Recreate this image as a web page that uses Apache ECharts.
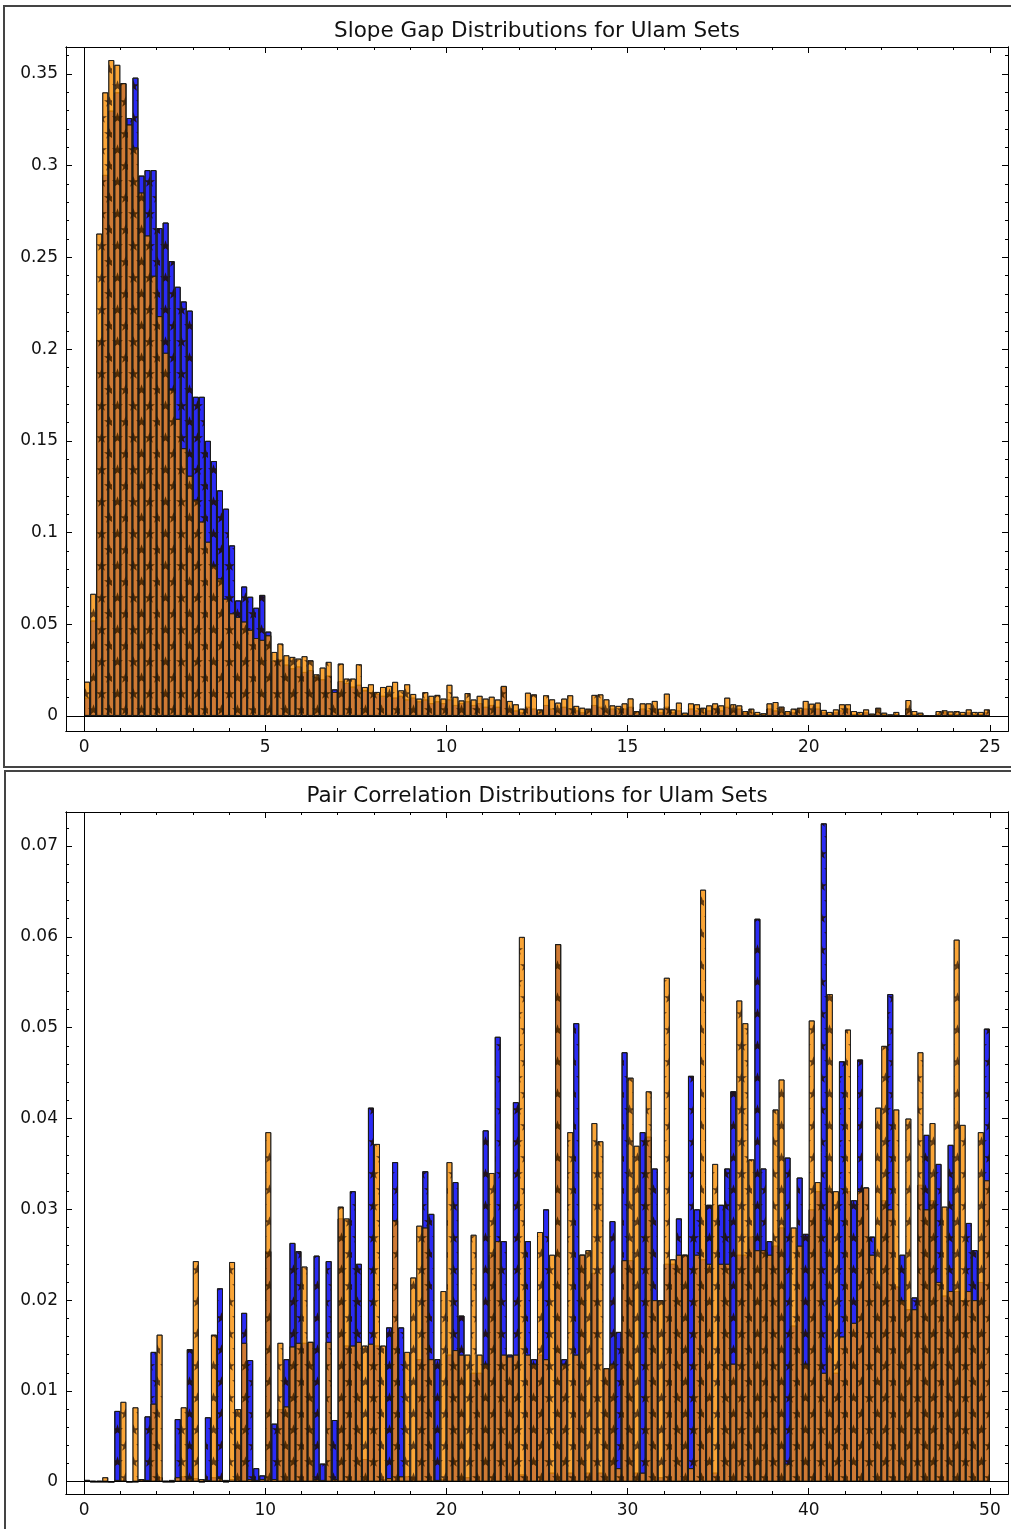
<!DOCTYPE html>
<html>
<head>
    <meta charset="UTF-8">
    <title>Ulam Sets</title>
    <script src="https://cdn.jsdelivr.net/npm/echarts@6/dist/echarts.min.js"></script>
</head>
<body style="margin:0;background:#fff;">
    <div id="main" style="width:1011px;height:1529px;"></div>
    <script>
        // slope gaps: 150 bins of width 1/6 on [0, 25]
        var slopeBlue = [
            0.010,0.052,0.205,0.295,0.330,0.340,0.345,0.326,0.348,0.2946,
            0.2976,0.2976,0.266,0.269,0.248,0.234,0.226,0.221,0.174,0.174,
            0.150,0.139,0.123,0.113,0.093,0.063,0.0706,0.065,0.059,0.066,
            0.046,0.030,0.031,0.028,0.026,0.027,0.024,0.025,0.021,0.020,
            0.022,0.0145,0.019,0.018,0.016,0.017,0.014,0.013,0.012,0.011,
            0.012,0.010,0.011,0.009,0.010,0.008,0.009,0.007,0.008,0.007,
            0.009,0.006,0.007,0.008,0.006,0.007,0.005,0.006,0.005,0.016,
            0.004,0.003,0.002,0.005,0.004,0.002,0.006,0.004,0.003,0.005,
            0.004,0.003,0.002,0.003,0.006,0.005,0.003,0.004,0.003,0.004,
            0.005,0.002,0.004,0.003,0.004,0.002,0.005,0.002,0.003,0.001,
            0.004,0.003,0.002,0.003,0.004,0.003,0.005,0.003,0.004,0.002,
            0.002,0.001,0.001,0.004,0.003,0.002,0.002,0.002,0.003,0.004,
            0.003,0.004,0.002,0.001,0.002,0.003,0.004,0.001,0.001,0.002,
            0.001,0.002,0.001,0.0005,0.001,0.0002,0.004,0.001,0.001,0.0003,
            0.0003,0.001,0.002,0.001,0.001,0.001,0.002,0.001,0.001,0.002
        ];
        var slopeOrange = [
            0.0187,0.0666,0.263,0.340,0.3576,0.355,0.345,0.3225,0.310,0.2854,
            0.262,0.240,0.218,0.198,0.178,0.162,0.146,0.131,0.118,0.106,
            0.095,0.082,0.075,0.064,0.056,0.054,0.0515,0.047,0.0425,0.0415,
            0.044,0.0349,0.0395,0.0331,0.0322,0.0313,0.0326,0.0304,0.0227,0.0264,
            0.0295,0.0131,0.0286,0.0204,0.0204,0.0282,0.0158,0.0173,0.0131,0.0158,
            0.0164,0.0186,0.014,0.0173,0.012,0.0095,0.013,0.011,0.0115,0.0095,
            0.017,0.0105,0.0085,0.0125,0.009,0.011,0.0095,0.0105,0.009,0.0164,
            0.0082,0.0064,0.0040,0.0127,0.0118,0.0036,0.0113,0.0091,0.0073,0.0095,
            0.0113,0.0055,0.0045,0.0040,0.0115,0.0118,0.0091,0.0058,0.0055,0.0069,
            0.0096,0.0027,0.0069,0.0069,0.0082,0.0040,0.0122,0.0036,0.0073,0.0018,
            0.0069,0.0064,0.0045,0.0058,0.0069,0.0058,0.0100,0.0064,0.0058,0.0027,
            0.0040,0.0022,0.0015,0.0069,0.0076,0.0051,0.0027,0.0040,0.0045,0.0082,
            0.0067,0.0073,0.0033,0.0022,0.0036,0.0064,0.0064,0.0027,0.0022,0.0036,
            0.0013,0.0045,0.0018,0.0009,0.0022,0.0002,0.0087,0.0027,0.0018,0.0004,
            0.0004,0.0027,0.0031,0.0025,0.0027,0.0022,0.0036,0.0022,0.0022,0.0036
        ];

        // pair correlations: 150 bins of width 1/3 on [0, 50]
        var pairBlue = [
            0.0002,0,0,0,0,0.0078,0.0002,0,0,0.0003,
            0.0072,0.0143,0.0005,0,0,0.0069,0.0006,0.0146,0.0004,0,
            0.0071,0.0005,0.0213,0,0.0003,0.004,0.0186,0.0134,0.0015,0.0007,
            0.0254,0.0064,0.008,0.0135,0.0263,0.0254,0.0153,0.0154,0.0249,0.002,
            0.0243,0.0068,0.029,0.015,0.032,0.024,0.0025,0.0412,0.015,0.0003,
            0.017,0.0352,0.017,0.0006,0.0005,0.0135,0.0342,0.0295,0.0135,0.0003,
            0.014,0.033,0.0183,0.0005,0.012,0.012,0.0387,0.025,0.049,0.0265,
            0.014,0.0418,0.0008,0.0265,0.0135,0.014,0.03,0.001,0.0592,0.0135,
            0.001,0.0505,0.025,0.001,0.023,0.001,0.0125,0.0287,0.0165,0.0473,
            0.0244,0.001,0.0385,0.038,0.0345,0.0005,0.024,0.024,0.029,0.025,
            0.0447,0.03,0.0245,0.0305,0.001,0.0305,0.0345,0.043,0.025,0.025,
            0.027,0.062,0.0345,0.0265,0.026,0.028,0.0357,0.0172,0.0335,0.0273,
            0.03,0.032,0.0725,0.032,0.012,0.0463,0.032,0.031,0.0465,0.0324,
            0.027,0.0215,0.031,0.0537,0.0215,0.025,0.019,0.0203,0.0327,0.0382,
            0.031,0.035,0.0205,0.0371,0.021,0.02,0.0285,0.0255,0.022,0.0499
        ];
        var pairOrange = [
            0.0002,0.0001,0.0001,0.0005,0,0.0002,0.0088,0,0.0082,0.0003,
            0.0002,0.0086,0.0162,0.0001,0.0002,0.0005,0.0082,0.0004,0.0243,0.0003,
            0.0002,0.0162,0.0004,0.0002,0.0242,0.008,0.0153,0.0003,0.0002,0.0003,
            0.0385,0.0003,0.0153,0.0083,0.0149,0.0153,0.0237,0.0154,0.0003,0.0002,
            0.0154,0.0003,0.0303,0.029,0.015,0.0154,0.015,0.0152,0.0372,0.015,
            0.0004,0.0288,0.0006,0.0143,0.0225,0.0282,0.028,0.0135,0.0002,0.021,
            0.0352,0.0145,0.014,0.014,0.0272,0.014,0.013,0.034,0.0265,0.014,
            0.0138,0.014,0.06,0.014,0.013,0.0275,0.0135,0.025,0.0592,0.013,
            0.0385,0.014,0.025,0.0255,0.0395,0.0375,0.0125,0.013,0.0015,0.0244,
            0.0445,0.037,0.001,0.043,0.02,0.02,0.0555,0.0245,0.025,0.025,
            0.0015,0.025,0.0652,0.024,0.035,0.024,0.024,0.013,0.053,0.0505,
            0.0355,0.0255,0.0255,0.025,0.041,0.0443,0.002,0.028,0.026,0.013,
            0.0508,0.033,0.012,0.0537,0.032,0.016,0.0498,0.0175,0.032,0.0324,
            0.025,0.0412,0.048,0.03,0.041,0.02,0.04,0.019,0.0473,0.03,
            0.0395,0.022,0.0303,0.021,0.0597,0.0393,0.021,0.02,0.0385,0.0332
        ];

        var slopeBin = 1 / 6;
        var pairBin = 1 / 3;

        var slopeXTicks = [0, 5, 10, 15, 20, 25];
        var slopeYTicks = [0, 0.05, 0.1, 0.15, 0.2, 0.25, 0.3, 0.35];
        var pairXTicks = [0, 10, 20, 30, 40, 50];
        var pairYTicks = [0, 0.01, 0.02, 0.03, 0.04, 0.05, 0.06, 0.07];

        var titles = ['Slope Gap Distributions for Ulam Sets', 'Pair Correlation Distributions for Ulam Sets'];

        function steps(a, b, s) {
            var out = [];
            for (var v = a; v <= b + 1e-9; v += s) out.push(+v.toFixed(4));
            return out;
        }

        function toBars(vals, w) {
            return vals.map(function (v, i) { return [(i + 0.5) * w, v]; });
        }

        var FONT = 'DejaVu Sans';
        var xAxes = [], yAxes = [];

        function ax(g, r, pos, ticks, len, labels) {
            return {
                gridIndex: g, type: 'value', position: pos, min: r[0], max: r[1],
                axisLine: { show: true, onZero: false, lineStyle: { color: '#000', width: 1 } },
                axisTick: { show: true, inside: true, length: len, customValues: ticks, lineStyle: { color: '#000', width: 1 } },
                axisLabel: labels ? { show: true, customValues: ticks, fontFamily: FONT, fontSize: 17, color: '#111', margin: 8 } : { show: false },
                splitLine: { show: false },
                minorTick: { show: false }
            };
        }

        function addFrame(g, xr, yr, xMaj, xMin, yMaj, yMin) {
            var xi = xAxes.length, yi = yAxes.length;
            xAxes.push(ax(g, xr, 'bottom', xMaj, 6, true));
            xAxes.push(ax(g, xr, 'bottom', xMin, 3, false));
            xAxes.push(ax(g, xr, 'top', xMaj, 6, false));
            xAxes.push(ax(g, xr, 'top', xMin, 3, false));
            yAxes.push(ax(g, yr, 'left', yMaj, 6, true));
            yAxes.push(ax(g, yr, 'left', yMin, 3, false));
            yAxes.push(ax(g, yr, 'right', yMaj, 6, false));
            yAxes.push(ax(g, yr, 'right', yMin, 3, false));
            return [xi, yi];
        }

        var top = addFrame(0, [-0.5, 25.5], [-0.0082, 0.3647],
            slopeXTicks, steps(0, 25, 1), slopeYTicks, steps(0, 0.36, 0.01));
        var bot = addFrame(1, [-1, 51], [-0.00135, 0.07375],
            pairXTicks, steps(0, 50, 2), pairYTicks, steps(0, 0.072, 0.002));

        // hatch of dark stars, rows staggered
        var starDecal = {
            symbol: 'path://M50,0L61.2,34.5L97.6,34.5L68.2,55.9L79.4,90.5L50,69.1L20.6,90.5L31.8,55.9L2.4,34.5L38.8,34.5Z',
            symbolSize: 1,
            color: 'rgba(30,12,0,0.85)',
            dashArrayX: [[11, 5], [0, 8, 11, -3]],
            dashArrayY: [11, 4.5]
        };

        var zeroLines = {
            silent: true, symbol: 'none', animation: false,
            label: { show: false },
            lineStyle: { color: '#000', width: 1, type: 'solid' },
            data: [{ xAxis: 0 }, { yAxis: 0 }]
        };

        function barSeries(ids, vals, w, color, opacity, withLines) {
            var s = {
                type: 'bar', xAxisIndex: ids[0], yAxisIndex: ids[1],
                data: toBars(vals, w), barWidth: 6.04, barGap: '-100%',
                silent: true, animation: false,
                itemStyle: { color: color, opacity: opacity, borderColor: '#1a1a1a', borderWidth: 1, decal: starDecal }
            };
            if (withLines) s.markLine = zeroLines;
            return s;
        }

        var chart = echarts.init(document.getElementById('main'));
        chart.setOption({
            backgroundColor: '#fff',
            animation: false,
            grid: [
                { left: 66, top: 47, width: 942, height: 684, containLabel: false, outerBoundsMode: 'none' },
                { left: 66, top: 812, width: 942, height: 682, containLabel: false, outerBoundsMode: 'none' }
            ],
            xAxis: xAxes,
            yAxis: yAxes,
            series: [
                barSeries(top, slopeBlue, slopeBin, '#2b2bf5', 1, true),
                barSeries(top, slopeOrange, slopeBin, '#f98f05', 0.8, false),
                barSeries(bot, pairBlue, pairBin, '#2b2bf5', 1, true),
                barSeries(bot, pairOrange, pairBin, '#f98f05', 0.8, false)
            ],
            graphic: [
                { type: 'rect', shape: { x: 4, y: 6, width: 1020, height: 761 }, style: { fill: null, stroke: '#444', lineWidth: 2 }, silent: true },
                { type: 'rect', shape: { x: 5, y: 771, width: 1020, height: 800 }, style: { fill: null, stroke: '#444', lineWidth: 2 }, silent: true },
                { type: 'text', x: 537, y: 31, style: { text: titles[0], font: '21.5px "DejaVu Sans"', fill: '#111', textAlign: 'center', textVerticalAlign: 'middle' }, silent: true },
                { type: 'text', x: 537, y: 796, style: { text: titles[1], font: '21.5px "DejaVu Sans"', fill: '#111', textAlign: 'center', textVerticalAlign: 'middle' }, silent: true }
            ]
        });
    </script>
</body>
</html>
